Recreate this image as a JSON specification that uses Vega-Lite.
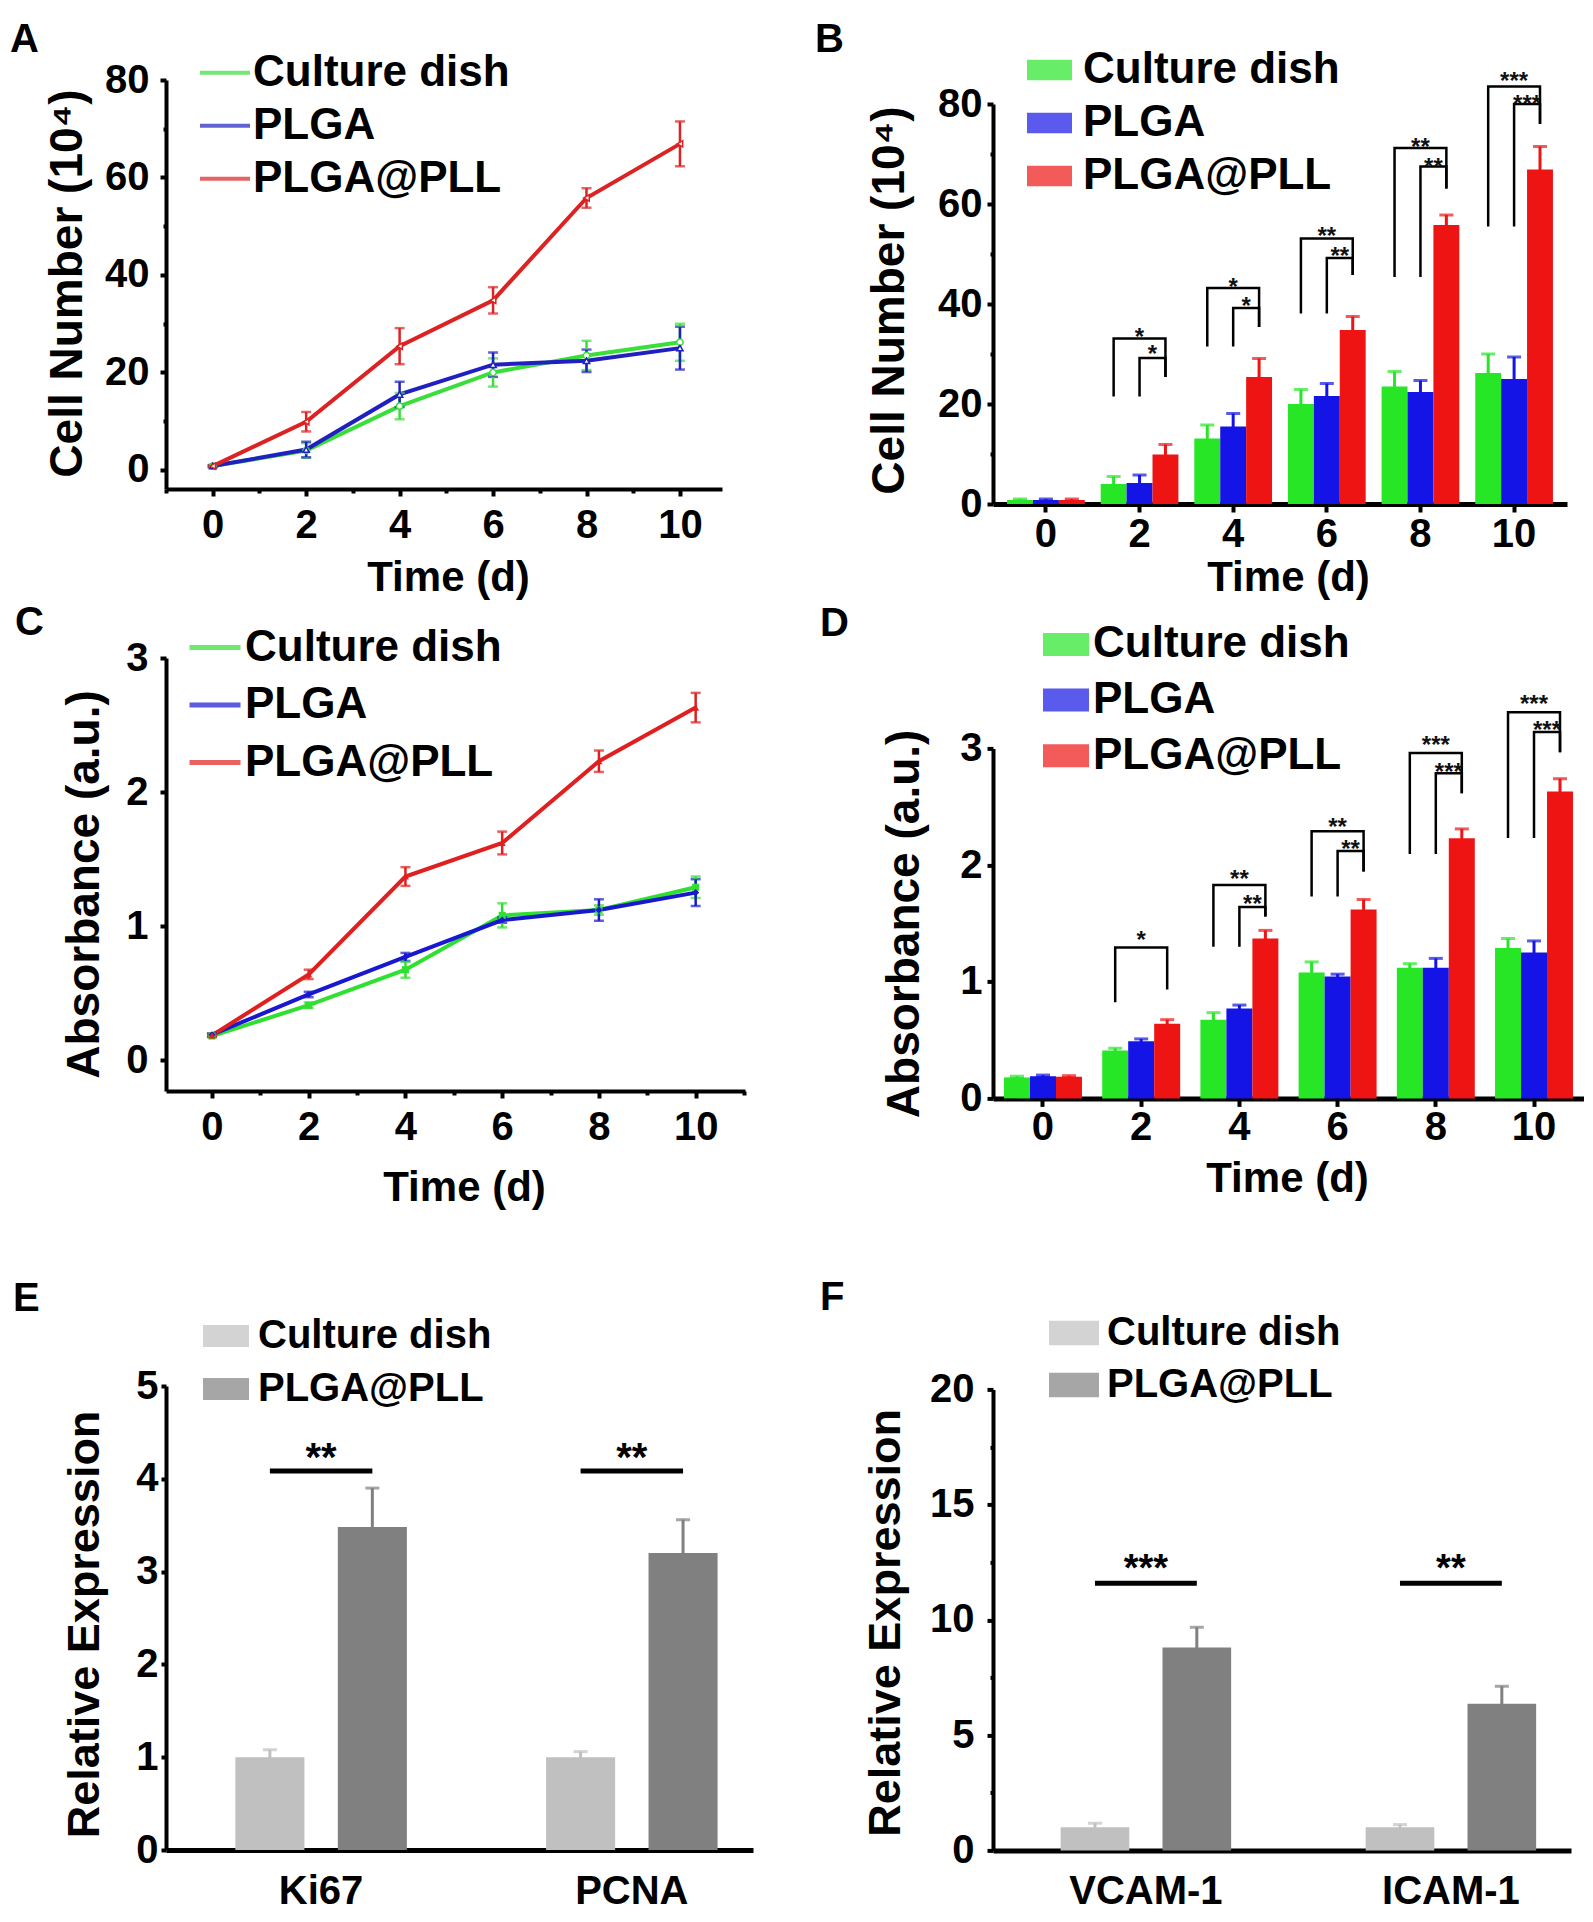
{
  "$schema": "https://vega.github.io/schema/vega-lite/v6.json",
  "background": "white",
  "padding": {"left": 10, "top": 3, "right": 0, "bottom": 0},
  "config": {
    "font": "Liberation Sans",
    "view": {"stroke": null},
    "axis": {"grid": false, "domainColor": "black", "domainWidth": 4, "tickColor": "black", "tickWidth": 4, "labelColor": "black", "labelFont": "Liberation Sans", "labelFontWeight": "bold", "labelFontSize": 40, "titleColor": "black", "titleFont": "Liberation Sans", "titleFontWeight": "bold", "titleFontSize": 42, "titleBaseline": "middle", "labelOverlap": false, "labelFlush": false},
    "legend": {"title": null, "orient": "none", "padding": 0, "labelFont": "Liberation Sans", "labelFontWeight": "bold", "labelFontSize": 44, "labelColor": "black", "labelLimit": 0},
    "title": {"fontSize": 40, "fontWeight": "bold", "color": "black"},
    "style": {"group-title": {"fontSize": 40, "fontWeight": "bold", "fill": "black"}}
  },
  "resolve": {"scale": {"color": "independent", "xOffset": "independent"}, "legend": {"color": "independent"}},
  "datasets": {
    "cell": [
      {"time": 0, "group": "Culture dish", "value": 0.8, "sd": 0.2},
      {"time": 2, "group": "Culture dish", "value": 4.0, "sd": 1.5},
      {"time": 4, "group": "Culture dish", "value": 13.1, "sd": 2.7},
      {"time": 6, "group": "Culture dish", "value": 20.0, "sd": 2.9},
      {"time": 8, "group": "Culture dish", "value": 23.5, "sd": 3.0},
      {"time": 10, "group": "Culture dish", "value": 26.2, "sd": 3.8},
      {"time": 0, "group": "PLGA", "value": 0.8, "sd": 0.2},
      {"time": 2, "group": "PLGA", "value": 4.2, "sd": 1.6},
      {"time": 4, "group": "PLGA", "value": 15.5, "sd": 2.6},
      {"time": 6, "group": "PLGA", "value": 21.6, "sd": 2.5},
      {"time": 8, "group": "PLGA", "value": 22.4, "sd": 2.3},
      {"time": 10, "group": "PLGA", "value": 25.0, "sd": 4.4},
      {"time": 0, "group": "PLGA@PLL", "value": 0.8, "sd": 0.2},
      {"time": 2, "group": "PLGA@PLL", "value": 9.9, "sd": 2.0},
      {"time": 4, "group": "PLGA@PLL", "value": 25.4, "sd": 3.7},
      {"time": 6, "group": "PLGA@PLL", "value": 34.8, "sd": 2.7},
      {"time": 8, "group": "PLGA@PLL", "value": 55.8, "sd": 2.0},
      {"time": 10, "group": "PLGA@PLL", "value": 66.9, "sd": 4.6}
    ],
    "abs": [
      {"time": 0, "group": "Culture dish", "value": 0.18, "sd": 0.01},
      {"time": 2, "group": "Culture dish", "value": 0.41, "sd": 0.02},
      {"time": 4, "group": "Culture dish", "value": 0.675, "sd": 0.06},
      {"time": 6, "group": "Culture dish", "value": 1.08, "sd": 0.09},
      {"time": 8, "group": "Culture dish", "value": 1.12, "sd": 0.035},
      {"time": 10, "group": "Culture dish", "value": 1.29, "sd": 0.08},
      {"time": 0, "group": "PLGA", "value": 0.19, "sd": 0.01},
      {"time": 2, "group": "PLGA", "value": 0.49, "sd": 0.02},
      {"time": 4, "group": "PLGA", "value": 0.77, "sd": 0.03},
      {"time": 6, "group": "PLGA", "value": 1.045, "sd": 0.02},
      {"time": 8, "group": "PLGA", "value": 1.12, "sd": 0.08},
      {"time": 10, "group": "PLGA", "value": 1.25, "sd": 0.1},
      {"time": 0, "group": "PLGA@PLL", "value": 0.185, "sd": 0.01},
      {"time": 2, "group": "PLGA@PLL", "value": 0.64, "sd": 0.035},
      {"time": 4, "group": "PLGA@PLL", "value": 1.37, "sd": 0.07},
      {"time": 6, "group": "PLGA@PLL", "value": 1.62, "sd": 0.085},
      {"time": 8, "group": "PLGA@PLL", "value": 2.23, "sd": 0.08},
      {"time": 10, "group": "PLGA@PLL", "value": 2.63, "sd": 0.11}
    ],
    "bracketB": [
      {"time": 2, "group": "Culture dish", "value": 21.5, "bid": "2o", "k": 0},
      {"time": 2, "group": "Culture dish", "value": 33.1, "bid": "2o", "k": 1},
      {"time": 2, "group": "PLGA@PLL", "value": 33.1, "bid": "2o", "k": 2},
      {"time": 2, "group": "PLGA@PLL", "value": 25.4, "bid": "2o", "k": 3},
      {"time": 2, "group": "PLGA", "value": 21.5, "bid": "2i", "k": 0},
      {"time": 2, "group": "PLGA", "value": 29.2, "bid": "2i", "k": 1},
      {"time": 2, "group": "PLGA@PLL", "value": 29.2, "bid": "2i", "k": 2},
      {"time": 2, "group": "PLGA@PLL", "value": 25.4, "bid": "2i", "k": 3},
      {"time": 4, "group": "Culture dish", "value": 31.5, "bid": "4o", "k": 0},
      {"time": 4, "group": "Culture dish", "value": 43.2, "bid": "4o", "k": 1},
      {"time": 4, "group": "PLGA@PLL", "value": 43.2, "bid": "4o", "k": 2},
      {"time": 4, "group": "PLGA@PLL", "value": 35.4, "bid": "4o", "k": 3},
      {"time": 4, "group": "PLGA", "value": 31.5, "bid": "4i", "k": 0},
      {"time": 4, "group": "PLGA", "value": 39.2, "bid": "4i", "k": 1},
      {"time": 4, "group": "PLGA@PLL", "value": 39.2, "bid": "4i", "k": 2},
      {"time": 4, "group": "PLGA@PLL", "value": 35.4, "bid": "4i", "k": 3},
      {"time": 6, "group": "Culture dish", "value": 38.1, "bid": "6o", "k": 0},
      {"time": 6, "group": "Culture dish", "value": 53.1, "bid": "6o", "k": 1},
      {"time": 6, "group": "PLGA@PLL", "value": 53.1, "bid": "6o", "k": 2},
      {"time": 6, "group": "PLGA@PLL", "value": 45.8, "bid": "6o", "k": 3},
      {"time": 6, "group": "PLGA", "value": 38.1, "bid": "6i", "k": 0},
      {"time": 6, "group": "PLGA", "value": 49.2, "bid": "6i", "k": 1},
      {"time": 6, "group": "PLGA@PLL", "value": 49.2, "bid": "6i", "k": 2},
      {"time": 6, "group": "PLGA@PLL", "value": 45.8, "bid": "6i", "k": 3},
      {"time": 8, "group": "Culture dish", "value": 45.4, "bid": "8o", "k": 0},
      {"time": 8, "group": "Culture dish", "value": 71.2, "bid": "8o", "k": 1},
      {"time": 8, "group": "PLGA@PLL", "value": 71.2, "bid": "8o", "k": 2},
      {"time": 8, "group": "PLGA@PLL", "value": 63.1, "bid": "8o", "k": 3},
      {"time": 8, "group": "PLGA", "value": 45.4, "bid": "8i", "k": 0},
      {"time": 8, "group": "PLGA", "value": 67.5, "bid": "8i", "k": 1},
      {"time": 8, "group": "PLGA@PLL", "value": 67.5, "bid": "8i", "k": 2},
      {"time": 8, "group": "PLGA@PLL", "value": 63.1, "bid": "8i", "k": 3},
      {"time": 10, "group": "Culture dish", "value": 55.5, "bid": "10o", "k": 0},
      {"time": 10, "group": "Culture dish", "value": 83.5, "bid": "10o", "k": 1},
      {"time": 10, "group": "PLGA@PLL", "value": 83.5, "bid": "10o", "k": 2},
      {"time": 10, "group": "PLGA@PLL", "value": 76.0, "bid": "10o", "k": 3},
      {"time": 10, "group": "PLGA", "value": 55.5, "bid": "10i", "k": 0},
      {"time": 10, "group": "PLGA", "value": 80.0, "bid": "10i", "k": 1},
      {"time": 10, "group": "PLGA@PLL", "value": 80.0, "bid": "10i", "k": 2},
      {"time": 10, "group": "PLGA@PLL", "value": 76.0, "bid": "10i", "k": 3}
    ],
    "starsB": [
      {"time": 2, "group": "PLGA", "value": 34.6, "label": "*", "kind": "outer"},
      {"time": 2, "group": "PLGA", "value": 31.2, "label": "*", "kind": "inner"},
      {"time": 4, "group": "PLGA", "value": 44.6, "label": "*", "kind": "outer"},
      {"time": 4, "group": "PLGA", "value": 40.8, "label": "*", "kind": "inner"},
      {"time": 6, "group": "PLGA", "value": 54.8, "label": "**", "kind": "outer"},
      {"time": 6, "group": "PLGA", "value": 50.9, "label": "**", "kind": "inner"},
      {"time": 8, "group": "PLGA", "value": 72.7, "label": "**", "kind": "outer"},
      {"time": 8, "group": "PLGA", "value": 68.6, "label": "**", "kind": "inner"},
      {"time": 10, "group": "PLGA", "value": 85.8, "label": "***", "kind": "outer"},
      {"time": 10, "group": "PLGA", "value": 81.2, "label": "***", "kind": "inner"}
    ],
    "bracketD": [
      {"time": 2, "group": "Culture dish", "value": 0.824, "bid": "2o", "k": 0},
      {"time": 2, "group": "Culture dish", "value": 1.293, "bid": "2o", "k": 1},
      {"time": 2, "group": "PLGA@PLL", "value": 1.293, "bid": "2o", "k": 2},
      {"time": 2, "group": "PLGA@PLL", "value": 0.933, "bid": "2o", "k": 3},
      {"time": 4, "group": "Culture dish", "value": 1.30, "bid": "4o", "k": 0},
      {"time": 4, "group": "Culture dish", "value": 1.83, "bid": "4o", "k": 1},
      {"time": 4, "group": "PLGA@PLL", "value": 1.83, "bid": "4o", "k": 2},
      {"time": 4, "group": "PLGA@PLL", "value": 1.56, "bid": "4o", "k": 3},
      {"time": 4, "group": "PLGA", "value": 1.30, "bid": "4i", "k": 0},
      {"time": 4, "group": "PLGA", "value": 1.64, "bid": "4i", "k": 1},
      {"time": 4, "group": "PLGA@PLL", "value": 1.64, "bid": "4i", "k": 2},
      {"time": 4, "group": "PLGA@PLL", "value": 1.56, "bid": "4i", "k": 3},
      {"time": 6, "group": "Culture dish", "value": 1.73, "bid": "6o", "k": 0},
      {"time": 6, "group": "Culture dish", "value": 2.29, "bid": "6o", "k": 1},
      {"time": 6, "group": "PLGA@PLL", "value": 2.29, "bid": "6o", "k": 2},
      {"time": 6, "group": "PLGA@PLL", "value": 1.945, "bid": "6o", "k": 3},
      {"time": 6, "group": "PLGA", "value": 1.73, "bid": "6i", "k": 0},
      {"time": 6, "group": "PLGA", "value": 2.12, "bid": "6i", "k": 1},
      {"time": 6, "group": "PLGA@PLL", "value": 2.12, "bid": "6i", "k": 2},
      {"time": 6, "group": "PLGA@PLL", "value": 1.945, "bid": "6i", "k": 3},
      {"time": 8, "group": "Culture dish", "value": 2.094, "bid": "8o", "k": 0},
      {"time": 8, "group": "Culture dish", "value": 2.96, "bid": "8o", "k": 1},
      {"time": 8, "group": "PLGA@PLL", "value": 2.96, "bid": "8o", "k": 2},
      {"time": 8, "group": "PLGA@PLL", "value": 2.615, "bid": "8o", "k": 3},
      {"time": 8, "group": "PLGA", "value": 2.094, "bid": "8i", "k": 0},
      {"time": 8, "group": "PLGA", "value": 2.786, "bid": "8i", "k": 1},
      {"time": 8, "group": "PLGA@PLL", "value": 2.786, "bid": "8i", "k": 2},
      {"time": 8, "group": "PLGA@PLL", "value": 2.615, "bid": "8i", "k": 3},
      {"time": 10, "group": "Culture dish", "value": 2.232, "bid": "10o", "k": 0},
      {"time": 10, "group": "Culture dish", "value": 3.31, "bid": "10o", "k": 1},
      {"time": 10, "group": "PLGA@PLL", "value": 3.31, "bid": "10o", "k": 2},
      {"time": 10, "group": "PLGA@PLL", "value": 2.967, "bid": "10o", "k": 3},
      {"time": 10, "group": "PLGA", "value": 2.232, "bid": "10i", "k": 0},
      {"time": 10, "group": "PLGA", "value": 3.14, "bid": "10i", "k": 1},
      {"time": 10, "group": "PLGA@PLL", "value": 3.14, "bid": "10i", "k": 2},
      {"time": 10, "group": "PLGA@PLL", "value": 2.967, "bid": "10i", "k": 3}
    ],
    "starsD": [
      {"time": 2, "group": "PLGA", "value": 1.41, "label": "*", "kind": "outer"},
      {"time": 4, "group": "PLGA", "value": 1.935, "label": "**", "kind": "outer"},
      {"time": 4, "group": "PLGA", "value": 1.72, "label": "**", "kind": "inner"},
      {"time": 6, "group": "PLGA", "value": 2.38, "label": "**", "kind": "outer"},
      {"time": 6, "group": "PLGA", "value": 2.19, "label": "**", "kind": "inner"},
      {"time": 8, "group": "PLGA", "value": 3.083, "label": "***", "kind": "outer"},
      {"time": 8, "group": "PLGA", "value": 2.85, "label": "***", "kind": "inner"},
      {"time": 10, "group": "PLGA", "value": 3.43, "label": "***", "kind": "outer"},
      {"time": 10, "group": "PLGA", "value": 3.21, "label": "***", "kind": "inner"}
    ],
    "expE": [
      {"gene": "Ki67", "group": "Culture dish", "value": 1.0, "sd": 0.08},
      {"gene": "Ki67", "group": "PLGA@PLL", "value": 3.48, "sd": 0.42},
      {"gene": "PCNA", "group": "Culture dish", "value": 1.0, "sd": 0.06},
      {"gene": "PCNA", "group": "PLGA@PLL", "value": 3.2, "sd": 0.36}
    ],
    "sigE": [
      {"gene": "Ki67", "group": "Culture dish", "value": 4.085, "bid": "k"},
      {"gene": "Ki67", "group": "PLGA@PLL", "value": 4.085, "bid": "k"},
      {"gene": "PCNA", "group": "Culture dish", "value": 4.085, "bid": "p"},
      {"gene": "PCNA", "group": "PLGA@PLL", "value": 4.085, "bid": "p"}
    ],
    "starsE": [
      {"gene": "Ki67", "value": 4.33, "label": "**"},
      {"gene": "PCNA", "value": 4.33, "label": "**"}
    ],
    "expF": [
      {"gene": "VCAM-1", "group": "Culture dish", "value": 1.0, "sd": 0.18},
      {"gene": "VCAM-1", "group": "PLGA@PLL", "value": 8.8, "sd": 0.88},
      {"gene": "ICAM-1", "group": "Culture dish", "value": 1.0, "sd": 0.12},
      {"gene": "ICAM-1", "group": "PLGA@PLL", "value": 6.36, "sd": 0.76}
    ],
    "sigF": [
      {"gene": "VCAM-1", "group": "Culture dish", "value": 11.59, "bid": "v"},
      {"gene": "VCAM-1", "group": "PLGA@PLL", "value": 11.59, "bid": "v"},
      {"gene": "ICAM-1", "group": "Culture dish", "value": 11.59, "bid": "i"},
      {"gene": "ICAM-1", "group": "PLGA@PLL", "value": 11.59, "bid": "i"}
    ],
    "starsF": [
      {"gene": "VCAM-1", "value": 12.64, "label": "***"},
      {"gene": "ICAM-1", "value": 12.64, "label": "**"}
    ],
    "spacer": [{"s": 0}]
  },
  "align": "none",
  "bounds": "full",
  "spacing": 62,
  "hconcat": [
    {
      "align": "none", "bounds": "full", "spacing": 5,
      "resolve": {"scale": {"color": "independent", "xOffset": "independent"}, "legend": {"color": "independent"}},
      "vconcat": [
        {
          "align": "none", "bounds": "full", "spacing": 15,
          "resolve": {"scale": {"color": "independent", "xOffset": "independent"}, "legend": {"color": "independent"}},
          "vconcat": [
            {"width": 1, "height": 1, "data": {"name": "spacer"}, "mark": {"type": "point", "opacity": 0, "size": 1}, "encoding": {}},
            {
              "width": 556,
              "height": 409,
              "title": {"text": "A", "anchor": "start", "frame": "group", "baseline": "top", "fontSize": 40, "fontWeight": "bold", "font": "Liberation Sans", "color": "black", "dx": -156, "offset": -14},
              "data": {"name": "cell"},
              "encoding": {
                "x": {"field": "time", "type": "quantitative", "scale": {"domain": [-1, 10.9], "nice": false, "zero": false},
                  "axis": {"title": "Time (d)", "values": [-1, 0, 1, 2, 3, 4, 5, 6, 7, 8, 9, 10], "labelExpr": "datum.value % 2 == 0 && datum.value >= 0 ? datum.label : ''", "tickSize": {"condition": {"test": "datum.value % 2 != 0", "value": 4}, "value": 7}, "labelPadding": 9, "titleX": 282, "titleY": 88}},
                "y": {"field": "value", "type": "quantitative", "scale": {"domain": [-3.9, 80], "nice": false, "zero": false},
                  "axis": {"title": "Cell Number (10⁴)", "titleFontSize": 46, "values": [0, 10, 20, 30, 40, 50, 60, 70, 80], "labelExpr": "datum.value % 20 == 0 ? datum.label : ''", "tickSize": {"condition": {"test": "datum.value % 20 != 0", "value": 3}, "value": 6}, "labelPadding": 11, "titleX": -99, "titleY": 203}},
                "color": {"field": "group", "type": "nominal", "scale": {"domain": ["Culture dish", "PLGA", "PLGA@PLL"], "range": ["#3ade3a", "#2020c0", "#dc2222"]},
                  "legend": {"legendX": 32, "legendY": -34.3, "symbolType": "stroke", "symbolSize": 2500, "symbolStrokeWidth": 4, "labelOffset": 1, "rowPadding": 4}}
              },
              "layer": [
                {"mark": {"type": "line", "strokeWidth": 4}},
                {"mark": {"type": "errorbar", "thickness": 2.5, "ticks": {"size": 10, "thickness": 2.5}}, "encoding": {"yError": {"field": "sd"}}},
                {"transform": [{"filter": "datum.group == 'Culture dish'"}], "mark": {"type": "point", "shape": "circle", "filled": false, "fill": "white", "strokeWidth": 1.5, "size": 40, "opacity": 1}},
                {"transform": [{"filter": "datum.group == 'PLGA'"}], "mark": {"type": "point", "shape": "triangle-up", "filled": false, "fill": "white", "strokeWidth": 1.5, "size": 40, "opacity": 1}},
                {"transform": [{"filter": "datum.group == 'PLGA@PLL'"}], "mark": {"type": "point", "shape": "triangle-left", "filled": false, "fill": "white", "strokeWidth": 1.5, "size": 40, "opacity": 1}}
              ]
            }
          ]
        },
        {
          "align": "none", "bounds": "full", "spacing": 71,
          "resolve": {"scale": {"color": "independent", "xOffset": "independent"}, "legend": {"color": "independent"}},
          "vconcat": [
            {
              "width": 579,
              "height": 433,
              "title": {"text": "C", "anchor": "start", "frame": "group", "baseline": "top", "fontSize": 40, "fontWeight": "bold", "font": "Liberation Sans", "color": "black", "dx": -151, "offset": -23.5},
              "data": {"name": "abs"},
              "encoding": {
                "x": {"field": "time", "type": "quantitative", "scale": {"domain": [-0.95, 11.02], "nice": false, "zero": false},
                  "axis": {"title": "Time (d)", "values": [0, 1, 2, 3, 4, 5, 6, 7, 8, 9, 10, 11], "labelExpr": "datum.value % 2 == 0 && datum.value <= 10 ? datum.label : ''", "tickSize": {"condition": {"test": "datum.value % 2 != 0", "value": 4}, "value": 7}, "labelPadding": 9, "titleX": 298, "titleY": 96}},
                "y": {"field": "value", "type": "quantitative", "scale": {"domain": [-0.23, 3], "nice": false, "zero": false},
                  "axis": {"title": "Absorbance (a.u.)", "titleFontSize": 46, "format": "d", "values": [0, 0.5, 1, 1.5, 2, 2.5, 3], "labelExpr": "datum.value % 1 == 0 ? datum.label : ''", "tickSize": {"condition": {"test": "datum.value % 1 != 0", "value": 3}, "value": 6}, "labelPadding": 12, "titleX": -82, "titleY": 226}},
                "color": {"field": "group", "type": "nominal", "scale": {"domain": ["Culture dish", "PLGA", "PLGA@PLL"], "range": ["#30e030", "#1818d0", "#e02020"]},
                  "legend": {"legendX": 21, "legendY": -38.5, "symbolType": "stroke", "symbolSize": 2601, "symbolStrokeWidth": 5, "labelOffset": 2, "rowPadding": 7.5}}
              },
              "layer": [
                {"mark": {"type": "line", "strokeWidth": 4}},
                {"mark": {"type": "errorbar", "thickness": 2.5, "ticks": {"size": 10, "thickness": 2.5}}, "encoding": {"yError": {"field": "sd"}}},
                {"transform": [{"filter": "datum.group == 'Culture dish'"}], "mark": {"type": "point", "shape": "square", "filled": true, "size": 50, "opacity": 1}},
                {"transform": [{"filter": "datum.group == 'PLGA'"}], "mark": {"type": "point", "shape": "diamond", "filled": true, "size": 50, "opacity": 1}},
                {"transform": [{"filter": "datum.group == 'PLGA@PLL'"}], "mark": {"type": "point", "shape": "triangle-up", "filled": true, "size": 50, "opacity": 1}}
              ]
            },
            {
              "width": 587,
              "height": 464,
              "title": {"text": "E", "anchor": "start", "frame": "group", "baseline": "top", "fontSize": 40, "fontWeight": "bold", "font": "Liberation Sans", "color": "black", "dx": -153, "offset": -6.3},
              "encoding": {
                "x": {"field": "gene", "type": "nominal", "scale": {"type": "band", "domain": ["Ki67", "PCNA"], "paddingInner": 0.448, "paddingOuter": 0.1686, "align": 0.662},
                  "axis": {"title": null, "labelAngle": 0, "ticks": false, "tickSize": 0, "labelPadding": 21, "labelFontSize": 40, "domainWidth": 5}},
                "y": {"field": "value", "type": "quantitative", "scale": {"domain": [0, 5], "nice": false},
                  "axis": {"title": "Relative Expression", "titleFontSize": 45, "format": "d", "values": [0, 0.5, 1, 1.5, 2, 2.5, 3, 3.5, 4, 4.5, 5], "labelExpr": "datum.value % 1 == 0 ? datum.label : ''", "tickSize": {"condition": {"test": "datum.value % 1 != 0", "value": 3}, "value": 5}, "labelPadding": 3, "titleX": -82, "titleY": 238}}
              },
              "layer": [
                {"data": {"name": "expE"}, "mark": {"type": "errorbar", "thickness": 3, "ticks": {"size": 14, "thickness": 3}},
                  "encoding": {"xOffset": {"field": "group", "type": "nominal", "scale": {"domain": ["Culture dish", "PLGA@PLL"], "paddingInner": 0.326, "paddingOuter": 0}}, "yError": {"field": "sd"},
                    "color": {"field": "group", "type": "nominal", "scale": {"domain": ["Culture dish", "PLGA@PLL"], "range": ["#c0c0c0", "#808080"]},
                      "legend": {"legendX": 37, "legendY": -73, "symbolType": "M-1,-0.48H1V0.48H-1Z", "symbolSize": 2116, "symbolStrokeWidth": 0, "labelOffset": 9, "rowPadding": 10, "labelFontSize": 40}}}},
                {"data": {"name": "expE"}, "mark": {"type": "bar"},
                  "encoding": {"xOffset": {"field": "group", "type": "nominal"}, "color": {"field": "group", "type": "nominal"}}},
                {"data": {"name": "sigE"}, "mark": {"type": "line", "strokeWidth": 5, "color": "black", "strokeCap": "butt"},
                  "encoding": {"xOffset": {"field": "group", "type": "nominal"}, "detail": {"field": "bid", "type": "nominal"}}},
                {"data": {"name": "starsE"}, "mark": {"type": "text", "fontSize": 40, "fontWeight": "bold", "baseline": "alphabetic", "dy": 23, "color": "black"},
                  "encoding": {"text": {"field": "label", "type": "nominal"}}}
              ]
            }
          ]
        }
      ]
    },
    {
      "align": "none", "bounds": "full", "spacing": 5.4,
      "resolve": {"scale": {"color": "independent", "xOffset": "independent"}, "legend": {"color": "independent"}},
      "vconcat": [
        {
          "align": "none", "bounds": "full", "spacing": 15,
          "resolve": {"scale": {"color": "independent", "xOffset": "independent"}, "legend": {"color": "independent"}},
          "vconcat": [
            {"width": 1, "height": 1, "data": {"name": "spacer"}, "mark": {"type": "point", "opacity": 0, "size": 1}, "encoding": {}},
            {
              "width": 574,
              "height": 400,
              "title": {"text": "B", "anchor": "start", "frame": "group", "baseline": "top", "fontSize": 40, "fontWeight": "bold", "font": "Liberation Sans", "color": "black", "dx": -178, "offset": -12},
              "encoding": {
                "x": {"field": "time", "type": "ordinal", "scale": {"type": "band", "domain": [0, 2, 4, 6, 8, 10], "paddingInner": 0.17, "paddingOuter": 0.15},
                  "axis": {"title": "Time (d)", "labelAngle": 0, "tickSize": 8, "labelPadding": 2, "domainWidth": 5, "titleX": 295, "titleY": 73}},
                "xOffset": {"field": "group", "type": "nominal", "scale": {"domain": ["Culture dish", "PLGA", "PLGA@PLL"], "paddingInner": 0, "paddingOuter": 0}},
                "y": {"field": "value", "type": "quantitative", "scale": {"domain": [0, 80], "nice": false},
                  "axis": {"title": "Cell Number (10⁴)", "titleFontSize": 46, "values": [0, 10, 20, 30, 40, 50, 60, 70, 80], "labelExpr": "datum.value % 20 == 0 ? datum.label : ''", "tickSize": {"condition": {"test": "datum.value % 20 != 0", "value": 3}, "value": 6}, "labelPadding": 5, "titleX": -104, "titleY": 196}},
                "color": {"field": "group", "type": "nominal", "scale": {"domain": ["Culture dish", "PLGA", "PLGA@PLL"], "range": ["#26e626", "#1414e6", "#ee1414"]},
                  "legend": {"legendX": 34, "legendY": -56.5, "symbolType": "M-1,-0.46H1V0.46H-1Z", "symbolSize": 2025, "symbolStrokeWidth": 0, "labelOffset": 11, "rowPadding": 8}}
              },
              "layer": [
                {"data": {"name": "cell"}, "mark": {"type": "errorbar", "thickness": 3, "ticks": {"size": 14, "thickness": 3}}, "encoding": {"yError": {"field": "sd"}}},
                {"data": {"name": "cell"}, "mark": {"type": "bar"}},
                {"data": {"name": "bracketB"}, "mark": {"type": "line", "strokeWidth": 2.5, "strokeJoin": "miter", "strokeCap": "butt"},
                  "encoding": {"color": {"value": "black"}, "detail": {"field": "bid", "type": "nominal"}, "order": {"field": "k", "type": "quantitative"}}},
                {"data": {"name": "starsB"}, "transform": [{"filter": "datum.kind == 'outer'"}], "mark": {"type": "text", "fontSize": 24, "fontWeight": "bold", "baseline": "alphabetic", "dy": 14},
                  "encoding": {"color": {"value": "#111"}, "text": {"field": "label", "type": "nominal"}}},
                {"data": {"name": "starsB"}, "transform": [{"filter": "datum.kind == 'inner'"}], "mark": {"type": "text", "fontSize": 24, "fontWeight": "bold", "baseline": "alphabetic", "dy": 14, "dx": 13},
                  "encoding": {"color": {"value": "#111"}, "text": {"field": "label", "type": "nominal"}}}
              ]
            }
          ]
        },
        {
          "align": "none", "bounds": "full", "spacing": 79,
          "resolve": {"scale": {"color": "independent", "xOffset": "independent"}, "legend": {"color": "independent"}},
          "vconcat": [
            {
              "width": 591,
              "height": 350,
              "title": {"text": "D", "anchor": "start", "frame": "group", "baseline": "top", "fontSize": 40, "fontWeight": "bold", "font": "Liberation Sans", "color": "black", "dx": -173, "offset": -22.4},
              "encoding": {
                "x": {"field": "time", "type": "ordinal", "scale": {"type": "band", "domain": [0, 2, 4, 6, 8, 10], "paddingInner": 0.206, "paddingOuter": 0.112},
                  "axis": {"title": "Time (d)", "labelAngle": 0, "tickSize": 8, "labelPadding": 1, "domainWidth": 5, "titleX": 294, "titleY": 80}},
                "xOffset": {"field": "group", "type": "nominal", "scale": {"domain": ["Culture dish", "PLGA", "PLGA@PLL"], "paddingInner": 0, "paddingOuter": 0}},
                "y": {"field": "value", "type": "quantitative", "scale": {"domain": [0, 3], "nice": false},
                  "axis": {"title": "Absorbance (a.u.)", "titleFontSize": 46, "format": "d", "values": [0, 0.5, 1, 1.5, 2, 2.5, 3], "labelExpr": "datum.value % 1 == 0 ? datum.label : ''", "tickSize": {"condition": {"test": "datum.value % 1 != 0", "value": 3}, "value": 6}, "labelPadding": 5, "titleX": -89}},
                "color": {"field": "group", "type": "nominal", "scale": {"domain": ["Culture dish", "PLGA", "PLGA@PLL"], "range": ["#26e626", "#1414e6", "#ee1414"]},
                  "legend": {"legendX": 50, "legendY": -127, "symbolType": "M-1,-0.5H1V0.5H-1Z", "symbolSize": 2116, "symbolStrokeWidth": 0, "labelOffset": 4, "rowPadding": 10.7}}
              },
              "layer": [
                {"data": {"name": "abs"}, "mark": {"type": "errorbar", "thickness": 3, "ticks": {"size": 14, "thickness": 3}}, "encoding": {"yError": {"field": "sd"}}},
                {"data": {"name": "abs"}, "mark": {"type": "bar"}},
                {"data": {"name": "bracketD"}, "mark": {"type": "line", "strokeWidth": 2.5, "strokeJoin": "miter", "strokeCap": "butt"},
                  "encoding": {"color": {"value": "black"}, "detail": {"field": "bid", "type": "nominal"}, "order": {"field": "k", "type": "quantitative"}}},
                {"data": {"name": "starsD"}, "transform": [{"filter": "datum.kind == 'outer'"}], "mark": {"type": "text", "fontSize": 24, "fontWeight": "bold", "baseline": "alphabetic", "dy": 14},
                  "encoding": {"color": {"value": "#111"}, "text": {"field": "label", "type": "nominal"}}},
                {"data": {"name": "starsD"}, "transform": [{"filter": "datum.kind == 'inner'"}], "mark": {"type": "text", "fontSize": 24, "fontWeight": "bold", "baseline": "alphabetic", "dy": 14, "dx": 13},
                  "encoding": {"color": {"value": "#111"}, "text": {"field": "label", "type": "nominal"}}}
              ]
            },
            {
              "width": 578,
              "height": 461,
              "title": {"text": "F", "anchor": "start", "frame": "group", "baseline": "top", "fontSize": 40, "fontWeight": "bold", "font": "Liberation Sans", "color": "black", "dx": -173, "offset": -10.5},
              "encoding": {
                "x": {"field": "gene", "type": "nominal", "scale": {"type": "band", "domain": ["VCAM-1", "ICAM-1"], "paddingInner": 0.441, "paddingOuter": 0.168, "align": 0.66},
                  "axis": {"title": null, "labelAngle": 0, "ticks": false, "tickSize": 0, "labelPadding": 21, "labelFontSize": 40, "domainWidth": 5}},
                "y": {"field": "value", "type": "quantitative", "scale": {"domain": [0, 20], "nice": false},
                  "axis": {"title": "Relative Expression", "titleFontSize": 45, "format": "d", "values": [0, 2.5, 5, 7.5, 10, 12.5, 15, 17.5, 20], "labelExpr": "datum.value % 5 == 0 ? datum.label : ''", "tickSize": {"condition": {"test": "datum.value % 5 != 0", "value": 3}, "value": 6}, "labelPadding": 13, "titleX": -107.5, "titleY": 233}}
              },
              "layer": [
                {"data": {"name": "expF"}, "mark": {"type": "errorbar", "thickness": 3, "ticks": {"size": 14, "thickness": 3}},
                  "encoding": {"xOffset": {"field": "group", "type": "nominal", "scale": {"domain": ["Culture dish", "PLGA@PLL"], "paddingInner": 0.326, "paddingOuter": 0}}, "yError": {"field": "sd"},
                    "color": {"field": "group", "type": "nominal", "scale": {"domain": ["Culture dish", "PLGA@PLL"], "range": ["#c0c0c0", "#808080"]},
                      "legend": {"legendX": 56, "legendY": -81.5, "symbolType": "M-1,-0.49H1V0.49H-1Z", "symbolSize": 2500, "symbolStrokeWidth": 0, "labelOffset": 8, "rowPadding": 7, "labelFontSize": 40}}}},
                {"data": {"name": "expF"}, "mark": {"type": "bar"},
                  "encoding": {"xOffset": {"field": "group", "type": "nominal"}, "color": {"field": "group", "type": "nominal"}}},
                {"data": {"name": "sigF"}, "mark": {"type": "line", "strokeWidth": 5, "color": "black", "strokeCap": "butt"},
                  "encoding": {"xOffset": {"field": "group", "type": "nominal"}, "detail": {"field": "bid", "type": "nominal"}}},
                {"data": {"name": "starsF"}, "mark": {"type": "text", "fontSize": 38, "fontWeight": "bold", "baseline": "alphabetic", "dy": 22, "color": "black"},
                  "encoding": {"text": {"field": "label", "type": "nominal"}}}
              ]
            }
          ]
        }
      ]
    }
  ]
}
